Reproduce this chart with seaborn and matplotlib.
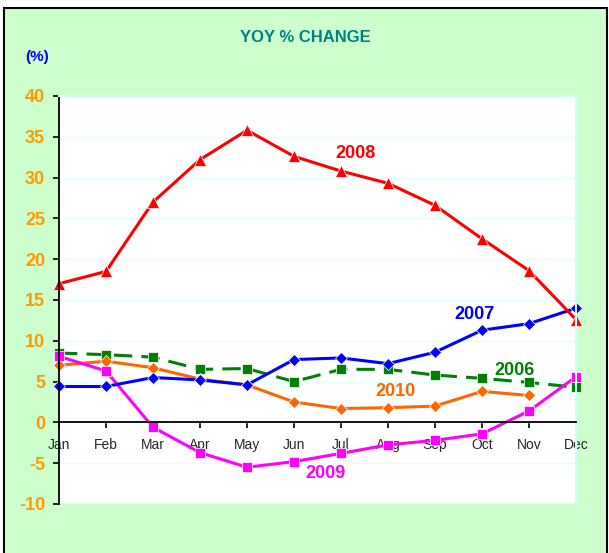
import matplotlib
matplotlib.use("Agg")
import matplotlib.pyplot as plt
import seaborn as sns
import pandas as pd
import numpy as np
from matplotlib.patches import Rectangle

months = ["Jan", "Feb", "Mar", "Apr", "May", "Jun", "Jul", "Aug", "Sep", "Oct", "Nov", "Dec"]
y2006 = [8.5, 8.3, 8.0, 6.5, 6.6, 5.0, 6.5, 6.5, 5.8, 5.4, 4.9, 4.3]
y2007 = [4.4, 4.4, 5.5, 5.2, 4.6, 7.7, 7.9, 7.2, 8.6, 11.3, 12.1, 14.0]
y2008 = [17.0, 18.5, 27.0, 32.2, 35.8, 32.6, 30.8, 29.3, 26.6, 22.5, 18.6, 12.6]
y2009 = [8.1, 6.3, -0.6, -3.7, -5.5, -4.8, -3.8, -2.75, -2.2, -1.4, 1.4, 5.6]
y2010 = [7.0, 7.5, 6.7, 5.3, 4.6, 2.5, 1.7, 1.8, 2.0, 3.8, 3.3, np.nan]
yticks = [-10, -5, 0, 5, 10, 15, 20, 25, 30, 35, 40]

series = {"2006": y2006, "2007": y2007, "2008": y2008, "2009": y2009, "2010": y2010}
rows = []
for name, vals in series.items():
    for i, v in enumerate(vals):
        if not np.isnan(v):
            rows.append({"month": i, "value": v, "year": name})
df = pd.DataFrame(rows)

sns.set_style("white")
plt.rcParams["font.family"] = ["Liberation Sans", "DejaVu Sans"]

colors = {"2006": "#008000", "2007": "#0000FF", "2008": "#FF0000", "2009": "#FF00FF", "2010": "#FF6600"}
markers = {"2006": "s", "2007": "D", "2008": "^", "2009": "s", "2010": "D"}
dashes = {"2006": (6, 3), "2007": "", "2008": "", "2009": "", "2010": ""}
order = ["2006", "2010", "2009", "2007", "2008"]

fig = plt.figure(figsize=(6.09, 5.53), dpi=100)
fig.patch.set_facecolor("white")
fig.patches.append(Rectangle((3.5 / 609, -0.01), 603 / 609, 1 - 8 / 553 + 0.01,
                             transform=fig.transFigure, facecolor="#CCFFCC",
                             edgecolor="black", linewidth=1.5, zorder=-10))

ax = fig.add_axes([59 / 609, 1 - 504 / 553, 517 / 609, 408 / 553])
ax.set_zorder(1)
ax.set_facecolor("white")

sns.lineplot(data=df, x="month", y="value", hue="year", style="year",
             hue_order=order, style_order=order, palette=colors,
             markers=markers, dashes=dashes, markersize=7.5, linewidth=2.2,
             markeredgewidth=0.5, sort=False, legend=False, ax=ax)
for ln in ax.get_lines():
    ln.set_clip_on(False)
    if ln.get_marker() == "^":
        ln.set_markersize(8.5)
    elif ln.get_marker() == "D":
        ln.set_markersize(6.5)

ax.set_xlim(0, 11)
ax.set_ylim(-10, 40)
ax.set_yticks(yticks)
ax.set_yticklabels([str(t) for t in yticks], color="#FF9900", fontweight="bold", fontsize=13)
ax.set_xticks(range(12))
ax.set_xticklabels(months, color="#008000", fontsize=11.5)
ax.set_xlabel("")
ax.set_ylabel("")

ax.grid(axis="y", color="#E0FFFF", linewidth=1)
ax.set_axisbelow(True)
ax.spines["bottom"].set_position(("data", 0))
for s in ["left", "bottom"]:
    ax.spines[s].set_color("black")
    ax.spines[s].set_linewidth(1.3)
for s in ["top", "right"]:
    ax.spines[s].set_color("#CCFFFF")
    ax.spines[s].set_linewidth(1.5)
ax.axhline(-10, color="#CCFFFF", linewidth=2.5, zorder=0.5)
ax.tick_params(axis="both", direction="out", length=4, width=1.2, color="black",
               bottom=True, left=True)
ax.tick_params(axis="x", pad=7)
ax.tick_params(axis="y", pad=6)

lbl = dict(fontweight="bold", fontsize=13, ha="center", va="center")
ax.text(6.3, 33.0, "2008", color="#FF0000", **lbl)
ax.text(8.83, 13.2, "2007", color="#0000FF", **lbl)
ax.text(9.7, 6.3, "2006", color="#008000", **lbl)
ax.text(7.15, 3.8, "2010", color="#FF6600", **lbl)
ax.text(5.68, -6.3, "2009", color="#FF00FF", **lbl)

fig.text(305 / 609, 1 - 37 / 553, "YOY % CHANGE", color="#008080", fontweight="bold",
         fontsize=12, ha="center", va="center")
fig.text(37 / 609, 1 - 57 / 553, "(%)", color="#0000FF", fontweight="bold",
         fontsize=11, ha="center", va="center")

fig.savefig("out.png", dpi=100)
